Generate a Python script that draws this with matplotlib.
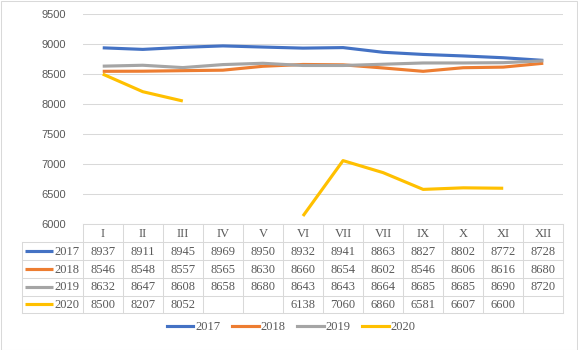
import matplotlib.pyplot as plt
from matplotlib.lines import Line2D
from matplotlib.patches import Rectangle

# dane
months = ['I', 'II', 'III', 'IV', 'V', 'VI', 'VII', 'VII', 'IX', 'X', 'XI', 'XII']
years = ['2017', '2018', '2019', '2020']
v2017 = [8937, 8911, 8945, 8969, 8950, 8932, 8941, 8863, 8827, 8802, 8772, 8728]
v2018 = [8546, 8548, 8557, 8565, 8630, 8660, 8654, 8602, 8546, 8606, 8616, 8680]
v2019 = [8632, 8647, 8608, 8658, 8680, 8643, 8643, 8664, 8685, 8685, 8690, 8720]
v2020 = [8500, 8207, 8052, None, None, 6138, 7060, 6860, 6581, 6607, 6600, None]
colors = ['#4472c4', '#ed7d31', '#a5a5a5', '#ffc000']

W, H = 578, 350
grid_c = '#d9d9d9'
txt_c = '#595959'
serif = 'Liberation Serif'
fs = 9

fig = plt.figure(figsize=(W / 100, H / 100), dpi=100)

# obszar wykresu (w pikselach)
x0, x1 = 82.7, 563.3
y_top, y_ax = 14, 224.3
ax = fig.add_axes([x0 / W, 1 - y_ax / H, (x1 - x0) / W, (y_ax - y_top) / H])

series = [v2017, v2018, v2019, v2020]
xs = list(range(len(months)))
for vals, c in zip(series, colors):
    y = [float('nan') if v is None else v for v in vals]
    ax.plot(xs, y, color=c, lw=2.25, solid_capstyle='butt', zorder=3)

ax.set_xlim(-0.5, len(months) - 0.5)
ax.set_ylim(6000, 9500)
ax.set_yticks(range(6000, 9501, 500))
ax.set_xticks([])
ax.grid(axis='y', color=grid_c, lw=0.75)
for s in ax.spines.values():
    s.set_visible(False)
ax.tick_params(axis='y', length=0, pad=12, labelsize=8, labelcolor=txt_c)
for lab in ax.get_yticklabels():
    lab.set_fontfamily('Liberation Sans')

# tabela danych
y_bot = 313.3
tab = fig.add_axes([x0 / W, 1 - y_bot / H, (x1 - x0) / W, (y_bot - y_ax) / H])
tab.set_xlim(-0.5, len(months) - 0.5)
tab.set_ylim(5, 0)
tab.axis('off')
col_w = (x1 - x0) / len(months)
kx = -0.5 - (x0 - 22.3) / col_w

lk = dict(color=grid_c, lw=0.75, clip_on=False)
tab.plot([-0.5, 11.5], [0, 0], **lk)
for r in range(1, 6):
    tab.plot([kx, 11.5], [r, r], **lk)
tab.plot([kx, kx], [1, 5], **lk)
for k in range(13):
    tab.plot([k - 0.5, k - 0.5], [0, 5], **lk)

for i, m in enumerate(months):
    tab.text(i, 0.55, m, ha='center', va='center', family=serif, fontsize=fs, color=txt_c)

for r, (yr, vals, c) in enumerate(zip(years, series, colors), start=1):
    for i, v in enumerate(vals):
        if v is not None:
            tab.text(i, r + 0.55, str(v), ha='center', va='center', family=serif,
                     fontsize=fs, color=txt_c)
    kx0 = kx + (25 - 22.3) / col_w
    kx1 = kx + (53.3 - 22.3) / col_w
    tab.plot([kx0, kx1], [r + 0.5, r + 0.5], color=c, lw=2.25, clip_on=False,
             solid_capstyle='butt')
    tab.text(-0.5 - 3.5 / col_w, r + 0.55, yr, ha='right', va='center', family=serif,
             fontsize=fs, color=txt_c)

# legenda
handles = [Line2D([], [], color=c, lw=2.25) for c in colors]
leg = fig.legend(handles, years, loc='center', bbox_to_anchor=(291 / W, 1 - 327 / H),
                 ncol=4, frameon=False, prop={'family': serif, 'size': fs},
                 handlelength=2.15, handletextpad=0.15, columnspacing=0.9)
for t in leg.get_texts():
    t.set_color(txt_c)

# ramka wykresu
fig.patches.append(Rectangle((0.5 / W, 0.5 / H), 1 - 1.5 / W, 1 - 1.5 / H,
                             transform=fig.transFigure, fill=False,
                             edgecolor=grid_c, lw=0.75))

fig.savefig('out.png', dpi=100)
